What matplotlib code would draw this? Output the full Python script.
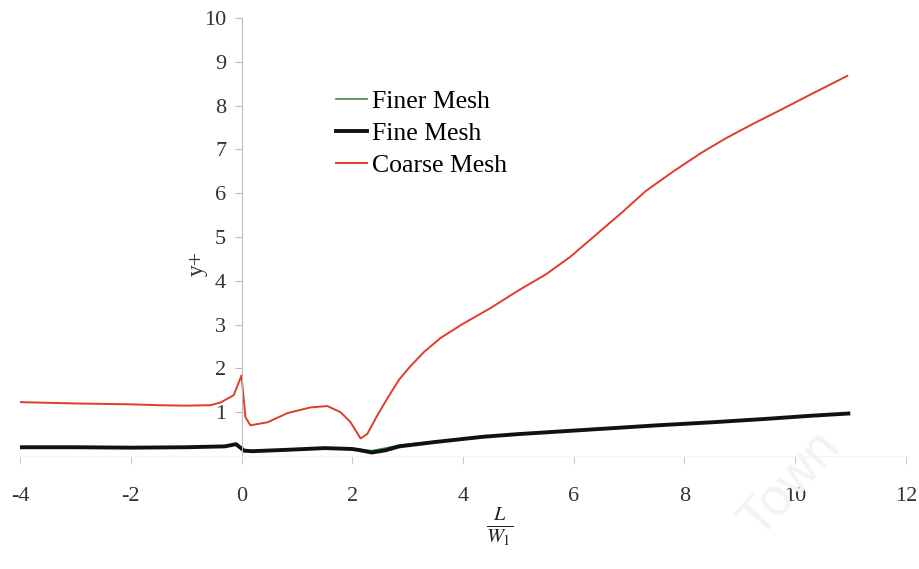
import matplotlib
matplotlib.use('Agg')
import matplotlib.pyplot as plt

plt.rcParams['font.family'] = 'Liberation Serif'
plt.rcParams['mathtext.fontset'] = 'stix'
plt.rcParams['axes.unicode_minus'] = False

# coarse mesh y+ along L/W1
coarse_x = [-4, -3, -2, -1.5, -1, -0.56, -0.38, -0.14, 0, 0.07, 0.16, 0.47, 0.83, 1.25,
            1.55, 1.79, 1.97, 2.15, 2.27, 2.45, 2.65, 2.85, 3.05, 3.3, 3.6, 4.0, 4.5,
            5.0, 5.5, 5.94, 6.4, 6.86, 7.3, 7.8, 8.3, 8.74, 9.2, 9.67, 10.3, 10.94]
coarse_y = [1.23, 1.2, 1.18, 1.16, 1.15, 1.16, 1.22, 1.39, 1.84, 0.89, 0.70, 0.77, 0.98, 1.11,
            1.14, 1.0, 0.77, 0.40, 0.50, 0.92, 1.35, 1.75, 2.05, 2.38, 2.7, 3.02, 3.38,
            3.78, 4.15, 4.55, 5.05, 5.55, 6.05, 6.5, 6.92, 7.25, 7.56, 7.86, 8.27, 8.68]

# fine mesh
fine_x = [-4, -3, -2, -1, -0.3, -0.1, 0.05, 0.2, 0.8, 1.5, 2.0, 2.15, 2.35, 2.6, 2.85,
          3.5, 4.37, 5.0, 6.25, 7.5, 8.5, 9.5, 10.3, 10.96]
fine_y = [0.2, 0.2, 0.19, 0.2, 0.22, 0.27, 0.12, 0.11, 0.14, 0.18, 0.16, 0.13, 0.08, 0.13, 0.22,
          0.32, 0.44, 0.5, 0.6, 0.7, 0.77, 0.85, 0.92, 0.97]

# finer mesh (mostly hidden under fine mesh)
finer_x = [-4, -3, -2, -1, -0.3, -0.1, 0.05, 0.2, 0.8, 1.5, 2.0, 2.15, 2.35, 2.6, 2.85,
           3.5, 4.37, 5.0, 6.25, 7.5, 8.5, 9.5, 10.3, 10.96]
finer_y = [0.2, 0.2, 0.19, 0.2, 0.22, 0.27, 0.12, 0.11, 0.14, 0.18, 0.17, 0.15, 0.12, 0.18, 0.25,
           0.33, 0.44, 0.5, 0.6, 0.7, 0.77, 0.85, 0.92, 0.97]

fig = plt.figure(figsize=(9.19, 5.69), dpi=100)
ax = fig.add_axes([0.0218, 0.1986, 0.964, 0.7696])

ax.plot(finer_x, finer_y, color='#3c8c3c', lw=1.2, label='Finer Mesh')
ax.plot(fine_x, fine_y, color='#111111', lw=2.8, label='Fine Mesh')
ax.plot(coarse_x, coarse_y, color='#e03c2c', lw=1.4, label='Coarse Mesh')

ax.set_xlim(-4, 12)
ax.set_ylim(0, 10)
ax.set_xticks(range(-4, 13, 2))
ax.set_yticks(range(1, 11))

for s in ['top', 'right']:
    ax.spines[s].set_visible(False)
ax.spines['left'].set_position(('data', 0))
ax.spines['left'].set_color('#bbbbbb')
ax.spines['left'].set_linewidth(0.8)
ax.spines['bottom'].set_position(('data', 0))
ax.spines['bottom'].set_color('#f4f4f4')
ax.tick_params(axis='y', direction='out', length=5, width=0.8, color='#bbbbbb',
               labelsize=16, pad=6, labelcolor='#333333')
ax.tick_params(axis='x', direction='out', length=6, width=0.8, color='#cccccc',
               labelsize=16, pad=16, labelcolor='#333333')
ax.patch.set_alpha(0)

ax.text(-0.8, 4.4, 'y+', rotation=90, fontsize=17, color='#333333',
        ha='center', va='center')
fig.text(0.544, 0.075, r'$\frac{L}{W_1}$', fontsize=21, color='#222222',
         ha='center', va='center')

ax.legend(loc='upper left', bbox_to_anchor=(0.345, 0.86), frameon=False, fontsize=18.5,
          handlelength=1.2, handletextpad=0.2, labelspacing=0.35, borderaxespad=0)

fig.text(0.86, 0.15, 'Town', fontsize=38, rotation=48, color='#f3f3f3',
         ha='center', va='center', family='Liberation Sans', zorder=0)

fig.savefig('out.png', dpi=100)
